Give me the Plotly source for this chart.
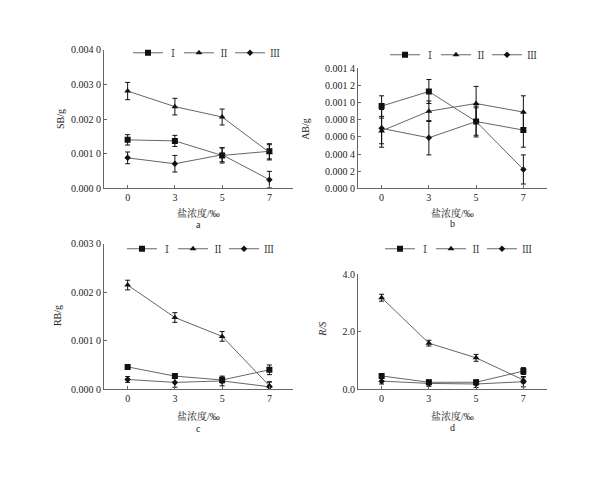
import plotly.graph_objects as go

categories = ["0", "3", "5", "7"]
series_names = ["Ⅰ", "Ⅱ", "Ⅲ"]

# Panel a: SB/g
sb_I = [0.00140, 0.00137, 0.00095, 0.00107]
sb_II = [0.00281, 0.00236, 0.00206, 0.00104]
sb_III = [0.00088, 0.00071, 0.00097, 0.00025]
sb_I_err = [0.00015, 0.00016, 0.00022, 0.00022]
sb_II_err = [0.00025, 0.00024, 0.00023, 0.00022]
sb_III_err = [0.00017, 0.00024, 0.00020, 0.00024]

# Panel b: AB/g
ab_I = [0.00096, 0.00113, 0.00078, 0.00068]
ab_II = [0.00067, 0.00090, 0.00099, 0.00089]
ab_III = [0.00070, 0.00059, 0.00078, 0.00022]
ab_I_err = [0.00012, 0.00014, 0.00016, 0.00020]
ab_II_err = [0.00015, 0.00012, 0.00020, 0.00019]
ab_III_err = [0.00022, 0.00020, 0.00018, 0.00017]

# Panel c: RB/g
rb_I = [0.00046, 0.00027, 0.00019, 0.00040]
rb_II = [0.00215, 0.00148, 0.00109, 0.00007]
rb_III = [0.00020, 0.00014, 0.00017, 0.00005]
rb_I_err = [0.00005, 0.00005, 0.00006, 0.00010]
rb_II_err = [0.00010, 0.00010, 0.00010, 0.00008]
rb_III_err = [0.00006, 0.00010, 0.00010, 0.00010]

# Panel d: R/S
rs_I = [0.46, 0.24, 0.24, 0.63]
rs_II = [3.18, 1.60, 1.09, 0.32]
rs_III = [0.28, 0.20, 0.18, 0.26]
rs_I_err = [0.08, 0.08, 0.08, 0.12]
rs_II_err = [0.12, 0.10, 0.12, 0.10]
rs_III_err = [0.10, 0.10, 0.12, 0.18]

sb_ticks = [0, 0.001, 0.002, 0.003, 0.004]
sb_ticktext = ["0.000 0", "0.001 0", "0.002 0", "0.003 0", "0.004 0"]
ab_ticks = [0, 0.0002, 0.0004, 0.0006, 0.0008, 0.0010, 0.0012, 0.0014]
ab_ticktext = ["0.000 0", "0.000 2", "0.000 4", "0.000 6", "0.000 8", "0.001 0", "0.001 2", "0.001 4"]
rb_ticks = [0, 0.001, 0.002, 0.003]
rb_ticktext = ["0.000 0", "0.001 0", "0.002 0", "0.003 0"]
rs_ticks = [0, 2, 4]
rs_ticktext = ["0.0", "2.0", "4.0"]

FONT = "Liberation Serif, Times New Roman, Noto Serif CJK SC, Noto Sans CJK SC, serif"
INK = "#222222"
LINE = "#666666"
symbols = ["square", "triangle-up", "diamond"]
msizes = [6, 6, 5]

panels = [
    dict(vals=[sb_I, sb_II, sb_III], errs=[sb_I_err, sb_II_err, sb_III_err],
         xa="x", ya="y", legend="legend", W=(104, 293), H=(45, 187),
         rng=[0, 0.004], tv=sb_ticks, tt=sb_ticktext, ytitle="SB/g", label="a",
         ytitle_pos=(60, 116), xtitle_y=212, lab_y=224, leg=(128, 48)),
    dict(vals=[ab_I, ab_II, ab_III], errs=[ab_I_err, ab_II_err, ab_III_err],
         xa="x2", ya="y2", legend="legend2", W=(358, 547), H=(64, 187),
         rng=[0, 0.0014], tv=ab_ticks, tt=ab_ticktext, ytitle="AB/g", label="b",
         ytitle_pos=(306, 126), xtitle_y=212, lab_y=223, leg=(385, 50)),
    dict(vals=[rb_I, rb_II, rb_III], errs=[rb_I_err, rb_II_err, rb_III_err],
         xa="x3", ya="y3", legend="legend3", W=(104, 293), H=(244, 393),
         rng=[0, 0.003], tv=rb_ticks, tt=rb_ticktext, ytitle="RB/g", label="c",
         ytitle_pos=(57, 318), xtitle_y=421, lab_y=433, leg=(122, 249)),
    dict(vals=[rs_I, rs_II, rs_III], errs=[rs_I_err, rs_II_err, rs_III_err],
         xa="x4", ya="y4", legend="legend4", W=(358, 547), H=(275, 393),
         rng=[0, 4], tv=rs_ticks, tt=rs_ticktext, ytitle="<i>R/S</i>", label="d",
         ytitle_pos=(323, 332), xtitle_y=421, lab_y=432, leg=(380, 249)),
]

PW, PH = 600, 480
fig = go.Figure()
layout = dict(
    width=PW, height=PH, margin=dict(l=0, r=0, t=0, b=0),
    paper_bgcolor="white", plot_bgcolor="white",
    font=dict(family=FONT, size=10, color=INK),
    annotations=[],
)

for i, p in enumerate(panels):
    for k in range(3):
        fig.add_trace(go.Scatter(
            x=categories, y=p["vals"][k], name=series_names[k],
            mode="lines+markers", xaxis=p["xa"], yaxis=p["ya"], legend=p["legend"],
            line=dict(color=LINE, width=1),
            marker=dict(symbol=symbols[k], size=msizes[k], color="#111111"),
            error_y=dict(type="data", array=p["errs"][k], visible=True,
                         color="#111111", thickness=1, width=2.5),
        ))
    sfx = "" if i == 0 else str(i + 1)
    x0, x1 = p["W"]
    y0, y1 = p["H"]
    layout["xaxis" + sfx] = dict(
        domain=[x0 / PW, x1 / PW], anchor=p["ya"], type="category",
        range=[-0.5, 3.5], showgrid=False, zeroline=False,
        showline=True, linecolor="#666666", linewidth=1,
        ticks="inside", ticklen=3, tickcolor="#666666",
        tickfont=dict(family=FONT, size=10, color=INK), fixedrange=True,
    )
    layout["yaxis" + sfx] = dict(
        domain=[1 - y1 / PH, 1 - y0 / PH], anchor=p["xa"],
        range=p["rng"], tickvals=p["tv"], ticktext=p["tt"],
        showgrid=False, zeroline=False, showline=True, linecolor="#666666", linewidth=1,
        ticks="inside", ticklen=3, tickcolor="#666666",
        tickfont=dict(family=FONT, size=10, color=INK), fixedrange=True,
    )
    lx, ly = p["leg"]
    layout[p["legend"]] = dict(
        x=lx / PW, y=1 - ly / PH, xanchor="left", yanchor="middle",
        orientation="h", bgcolor="rgba(0,0,0,0)", borderwidth=0,
        font=dict(family=FONT, size=10, color=INK), itemwidth=30,
        entrywidth=6, entrywidthmode="pixels", tracegroupgap=0,
    )
    tx, ty = p["ytitle_pos"]
    layout["annotations"].append(dict(
        text=p["ytitle"], x=tx / PW, y=1 - ty / PH, xref="paper", yref="paper",
        textangle=-90, showarrow=False, font=dict(family=FONT, size=10, color=INK),
        xanchor="center", yanchor="middle"))
    cx = (x0 + x1) / 2
    layout["annotations"].append(dict(
        text="盐浓度/‰", x=cx / PW, y=1 - p["xtitle_y"] / PH, xref="paper", yref="paper",
        showarrow=False, font=dict(family=FONT, size=10, color=INK),
        xanchor="center", yanchor="middle"))
    layout["annotations"].append(dict(
        text=p["label"], x=cx / PW, y=1 - p["lab_y"] / PH, xref="paper", yref="paper",
        showarrow=False, font=dict(family=FONT, size=10, color=INK),
        xanchor="center", yanchor="middle"))

fig.update_layout(**layout)
fig.write_html("out.html")
